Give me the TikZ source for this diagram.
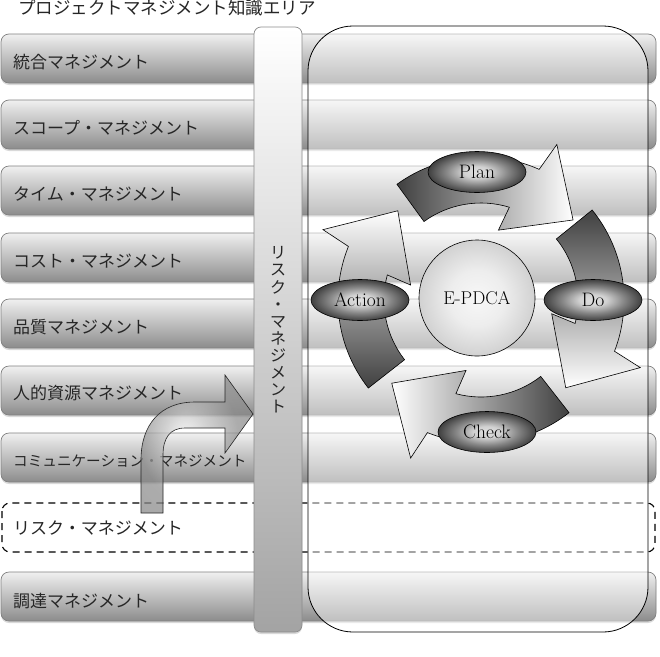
\documentclass[tikz,border=0pt]{standalone}
\usepackage{fontspec}
\newfontfamily\jp{Noto Sans CJK JP}
\usetikzlibrary{shapes.geometric,shadows}
\pgfdeclareradialshading{ellshade}{\pgfpoint{0bp}{0bp}}{%
  color(0bp)=(black!12); color(7bp)=(black!18); color(16bp)=(black!48);
  color(26bp)=(black!78); color(36bp)=(black!92); color(50bp)=(black!96)}
\pgfdeclareradialshading{coreshade}{\pgfpoint{0bp}{0bp}}{%
  color(0bp)=(black!3); color(12bp)=(black!7); color(25bp)=(black!18);
  color(50bp)=(black!22)}
\pgfdeclareradialshading{bentshade}{\pgfpoint{-6bp}{3bp}}{%
  color(0bp)=(black!5); color(10bp)=(black!25); color(22bp)=(black!45);
  color(50bp)=(black!50)}
\tikzset{
  barbox/.style={rounded corners=8pt, draw=black!50, line width=0.7pt,
    top color=white!94!black, bottom color=black!45,
    drop shadow={shadow xshift=0pt, shadow yshift=-2pt, opacity=0.3}},
  barlabel/.style={anchor=west, inner sep=0pt, text=black!85,
    font=\jp\fontsize{17}{17}\selectfont},
  phase/.style={ellipse, draw=black, line width=0.6pt, minimum width=98pt,
    minimum height=41pt, inner sep=0pt, shading=ellshade,
    font=\fontsize{19.5}{20}\selectfont},
  cyclearrow/.style={draw=black, line width=0.6pt},
}
\newcommand\pdcaarrow[2]{%
  \path[cyclearrow,#2] ({#1}:143) arc[start angle={#1}, end angle={#1-60}, radius=143]
    -- ({#1-62}:173) -- ({#1-85}:122) -- ({#1-50}:72) -- ({#1-53}:97)
    arc[start angle={#1-53}, end angle={#1}, radius=97] -- cycle;}
\begin{document}
\begin{tikzpicture}[x=1pt,y=1pt]
\useasboundingbox (0,0) rectangle (660,-656);
% title
\node[anchor=west, inner sep=0pt, text=black!85, font=\jp\fontsize{17.5}{18}\selectfont]
  (title) at (18,-8) {プロジェクトマネジメント知識エリア};
% bars
\foreach \t in {34,100,166,233,299,366,433,572}
  \path[barbox] (1,-\t) rectangle (656,-\t-49);
\path[draw=black, line width=1.1pt, dash pattern=on 7pt off 5pt, fill=white,
  rounded corners=8pt] (2,-503) rectangle (655,-552);
% big frame
\path[draw=black, line width=0.8pt, fill=white, fill opacity=0.45,
  rounded corners=45pt] (308,-26) rectangle (648,-632);
% vertical risk bar
\path[rounded corners=7pt, draw=black!45, line width=0.7pt, top color=white,
  bottom color=black!36,
  drop shadow={shadow xshift=0pt, shadow yshift=-2pt, opacity=0.3}]
  (254,-27) rectangle (302,-632);
\node[align=center, inner sep=0pt, text=black!85, font=\jp\fontsize{16}{17.1}\selectfont]
  (riskv) at (278,-330) {リ\\ス\\ク\\・\\マ\\ネ\\ジ\\メ\\ン\\ト};
% labels
\node[barlabel] (l1) at (13,-62) {統合マネジメント};
\node[barlabel] (l2) at (13,-128) {スコープ・マネジメント};
\node[barlabel] (l3) at (13,-194) {タイム・マネジメント};
\node[barlabel] (l4) at (13,-261) {コスト・マネジメント};
\node[barlabel] (l5) at (13,-327) {品質マネジメント};
\node[barlabel] (l6) at (13,-393) {人的資源マネジメント};
\node[barlabel, font=\jp\fontsize{14.6}{15}\selectfont] (l7) at (13,-461) {コミュニケーション・マネジメント};
\node[barlabel] (l8) at (13,-528) {リスク・マネジメント};
\node[barlabel] (l9) at (13,-601) {調達マネジメント};
% PDCA cycle
\begin{scope}[shift={(481,-300)}]
  \pdcaarrow{126}{left color=black!75, right color=white}
  \pdcaarrow{39}{top color=black!75, bottom color=white}
  \pdcaarrow{-52}{right color=black!75, left color=white}
  \pdcaarrow{218}{bottom color=black!75, top color=white}
\end{scope}
\node[circle, draw=black, line width=0.6pt, minimum size=116pt, inner sep=0pt,
  shading=coreshade, font=\fontsize{18.5}{19}\selectfont] (core) at (477,-298) {E-PDCA};
\node[phase] (plan) at (477,-172) {Plan};
\node[phase] (do) at (593,-300) {Do};
\node[phase] (check) at (487,-432) {Check};
\node[phase] (action) at (360,-300) {Action};
% bent arrow
\path[draw=black!85, line width=0.6pt, shading=bentshade, fill opacity=0.72]
  (141,-513) -- (141,-460) .. controls (141,-425) and (160,-402) .. (195,-402)
  -- (225,-402) -- (225,-375) -- (253,-414) -- (225,-453) -- (225,-428)
  -- (185,-428) .. controls (170,-428) and (163,-438) .. (163,-455)
  -- (163,-513) -- cycle;
\end{tikzpicture}
\end{document}
